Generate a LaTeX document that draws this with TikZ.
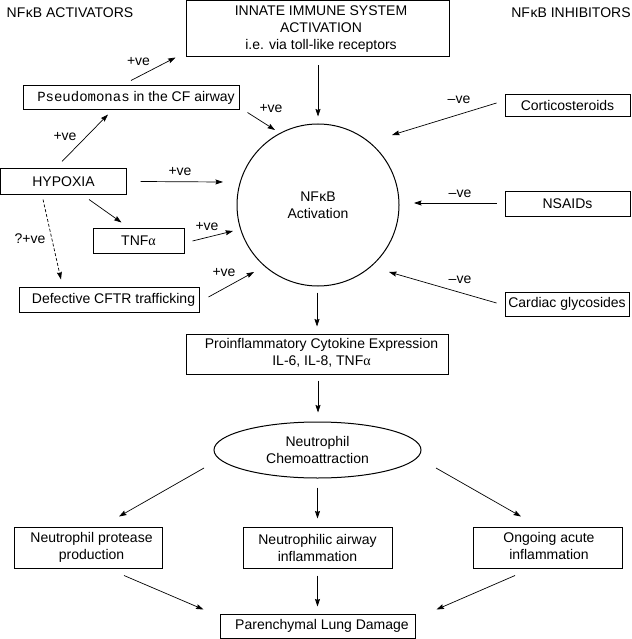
\documentclass[tikz,border=0pt]{standalone}
\usepackage{fontspec}
\setmainfont{Liberation Sans}
\newfontfamily\monof{Liberation Mono}
\newfontfamily\serf{Liberation Serif}
\usetikzlibrary{arrows.meta,shapes.geometric}
\newcommand{\alp}{{\serf α}}
\newcommand{\tx}[2]{\hspace*{#1}\begin{tabular}{@{}c@{}}#2\end{tabular}}
\tikzset{
  every node/.style={font=\fontsize{14}{17}\selectfont},
  box/.style={draw, rectangle, line width=1pt, inner sep=0pt},
  lab/.style={inner sep=0pt},
  arr/.style={-{Stealth[length=7.5pt,width=5pt,inset=1pt]}, line width=0.7pt},
  dsh/.style={arr, dash pattern=on 3pt off 2pt}
}
\begin{document}
\begin{tikzpicture}[x=1pt,y=-1pt]
\useasboundingbox (0,0) rectangle (631,639);
% headings
\node[lab] (act) at (70,13) {NF\kern0.5pt κB ACTIVATORS};
\node[lab] (inh) at (571,13) {NF\kern0.5pt κB INHIBITORS};
% top box
\node[box, minimum width=263pt, minimum height=56pt] (innate) at (317.5,29)
  {\tx{7pt}{INNATE IMMUNE SYSTEM\\ACTIVATION\\i.e. via toll-like receptors}};
% activators
\node[box, minimum width=216pt, minimum height=24pt] (pseudo) at (131,98)
  {\hspace*{10pt}{\monof Pseudomonas} in the CF airway};
\node[box, minimum width=126pt, minimum height=25pt] (hyp) at (63.5,181.5) {HYPOXIA};
\node[box, minimum width=91pt, minimum height=25pt] (tnf) at (138.5,240.5) {TNF\alp};
\node[box, minimum width=180pt, minimum height=25pt] (cftr) at (109,299.5)
  {\hspace*{9pt}Defective CFTR trafficking};
% inhibitors
\node[box, minimum width=125pt, minimum height=22pt] (cort) at (567.5,105.5) {Corticosteroids};
\node[box, minimum width=125pt, minimum height=25pt] (nsaid) at (567.5,203.5) {NSAIDs};
\node[box, minimum width=124pt, minimum height=24pt] (card) at (567,304) {Cardiac glycosides};
% centre
\node[draw, circle, line width=1pt, minimum size=162pt, inner sep=0pt, align=center] (circ) at (318,205)
  {NF\kern0.5pt κB\\Activation};
\node[box, minimum width=262pt, minimum height=40pt] (pro) at (317,354)
  {\tx{9pt}{Proinflammatory Cytokine Expression\\IL-6, IL-8, TNF\alp}};
\node[draw, ellipse, line width=1pt, minimum width=207pt, minimum height=56pt, inner sep=0pt, align=center] (ell) at (317.5,450)
  {Neutrophil\\Chemoattraction};
\node[box, minimum width=148pt, minimum height=41pt] (prot) at (88,547.5)
  {\tx{7pt}{Neutrophil protease\\production}};
\node[box, minimum width=149pt, minimum height=41pt, align=center] (mid) at (317.5,547.5)
  {Neutrophilic airway\\inflammation};
\node[box, minimum width=149pt, minimum height=41pt] (ong) at (547.5,547.5)
  {\tx{3pt}{Ongoing acute\\inflammation}};
\node[box, minimum width=195pt, minimum height=24pt] (par) at (317.5,626)
  {\hspace*{9pt}Parenchymal Lung Damage};
% labels
\node[lab] (l1) at (138.5,62) {+ve};
\node[lab] (l2) at (271,109) {+ve};
\node[lab] (l3) at (65,137) {+ve};
\node[lab] (l4) at (180,172) {+ve};
\node[lab] (l6) at (30,239) {?+ve};
\node[lab] (l7) at (207,227) {+ve};
\node[lab] (l8) at (224,273) {+ve};
\node[lab] (l10) at (459,100) {–ve};
\node[lab] (l11) at (460,194) {–ve};
\node[lab] (l12) at (460,280) {–ve};
% connectors
\draw[arr] ([shift={(0,-5)}]pseudo.north) -- ([shift={(-10,0)}]innate.south west);
\draw[arr] ([shift={(8,2)}]pseudo.south east) -- ([shift={(-43,-75)}]circ.center);
\draw[arr] ([shift={(-1.5,-7)}]hyp.north) -- ([shift={(-23,4)}]pseudo.south);
\draw[arr] ([shift={(13.5,0)}]hyp.east) -- ([shift={(-95,-23)}]circ.center);
\draw[arr] ([shift={(25.5,5)}]hyp.south) -- ([shift={(29,-5)}]tnf.north west);
\draw[dsh] ([shift={(-20.5,5)}]hyp.south) -- ([shift={(-48,-7)}]cftr.north);
\draw[arr] ([shift={(8,0.5)}]tnf.east) -- ([shift={(-85,26)}]circ.center);
\draw[arr] ([shift={(9,-2.5)}]cftr.east) -- ([shift={(-64,67)}]circ.center);
\draw[arr] ([shift={(0.5,8)}]innate.south) -- ([shift={(0,-7)}]circ.north);
\draw[arr] ([shift={(-8,-2.5)}]cort.west) -- ([shift={(74,-70)}]circ.center);
\draw[arr] ([shift={(-8,-0.5)}]nsaid.west) -- ([shift={(96,-2)}]circ.center);
\draw[arr] ([shift={(-8,-1)}]card.west) -- ([shift={(71,67)}]circ.center);
\draw[arr] ([shift={(-1,6)}]circ.south) -- ([shift={(0,-7)}]pro.north);
\draw[arr] ([shift={(1,6)}]pro.south) -- ([shift={(0.5,-9)}]ell.north);
\draw[arr] ([shift={(-113.5,18)}]ell.center) -- ([shift={(31,-10)}]prot.north);
\draw[arr] ([shift={(0,9)}]ell.south) -- ([shift={(0,-8)}]mid.north);
\draw[arr] ([shift={(118.5,18)}]ell.center) -- ([shift={(-26.5,-10)}]ong.north);
\draw[arr] ([shift={(36,7)}]prot.south) -- ([shift={(-16,-4)}]par.north west);
\draw[arr] ([shift={(0,7)}]mid.south) -- ([shift={(0,-7)}]par.north);
\draw[arr] ([shift={(-32.5,7)}]ong.south) -- ([shift={(21,-4)}]par.north east);
\end{tikzpicture}
\end{document}
